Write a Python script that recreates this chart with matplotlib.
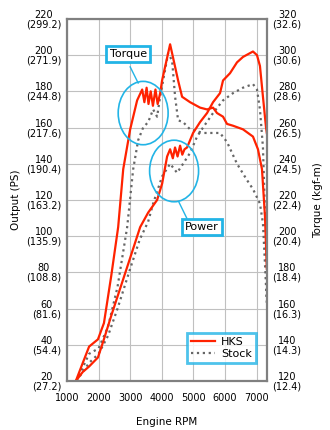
import matplotlib
matplotlib.use('Agg')
import matplotlib.pyplot as plt
import matplotlib.patches as patches

# Data (rpm, left-axis value)
hks_torque_rpm = [1280, 1500, 1700, 1980, 2170, 2400, 2620, 2780, 3000, 3220, 3380,
                  3450, 3520, 3580, 3650, 3720, 3800, 3870, 3950, 4010, 4264, 4517,
                  4643, 4896, 5212, 5433, 5623, 5749, 5939, 6065, 6255, 6571, 6887,
                  7045, 7172, 7267, 7325]
hks_torque = [20, 30, 39, 43, 52, 78, 105, 137, 159, 175, 181,
              174, 182, 173, 180, 172, 181, 173, 179, 186, 206, 186,
              177, 174, 171, 170, 171, 168, 166, 162, 161, 159, 155,
              148, 137, 111, 82]

hks_power_rpm = [1280, 1500, 1700, 1980, 2150, 2400, 2700, 3000, 3316, 3569, 3853,
                 4011, 4169, 4264, 4350, 4420, 4500, 4580, 4650, 4720, 4801, 4991,
                 5212, 5433, 5623, 5844, 5939, 6160, 6381, 6571, 6887, 7014, 7108,
                 7203, 7300, 7325]
hks_power = [20, 25, 28, 33, 42, 56, 72, 88, 105, 113, 120,
             129, 144, 148, 143, 149, 144, 150, 145, 148, 149, 157,
             163, 168, 174, 179, 186, 190, 196, 199, 202, 200, 194,
             177, 160, 157]

stock_torque_rpm = [1300, 1700, 2000, 2300, 2600, 2905, 3095, 3253, 3411, 3569, 3727,
                    3853, 3948, 4043, 4201, 4327, 4422, 4517, 4675, 4896, 5307, 5623,
                    5844, 6065, 6381, 6697, 6887, 7108, 7203, 7280, 7325]
stock_torque = [20, 35, 38, 50, 72, 105, 137, 153, 160, 163, 170,
                166, 177, 186, 201, 197, 177, 164, 163, 159, 157, 157,
                157, 152, 140, 131, 126, 118, 107, 80, 63]

stock_power_rpm = [1300, 1700, 2000, 2300, 2600, 3000, 3300, 3569, 3727, 4011, 4264,
                   4485, 4675, 4896, 5117, 5307, 5623, 5939, 6255, 6571, 6887, 7014,
                   7108, 7203, 7280, 7325]
stock_power = [20, 30, 35, 45, 60, 82, 98, 108, 118, 133, 140,
               135, 140, 146, 155, 160, 168, 175, 179, 182, 184, 181,
               170, 149, 105, 65]

left_ticks = [20, 40, 60, 80, 100, 120, 140, 160, 180, 200, 220]
left_sub = ['27.2', '54.4', '81.6', '108.8', '135.9', '163.2', '190.4', '217.6',
            '244.8', '271.9', '299.2']
right_ticks = [120, 140, 160, 180, 200, 220, 240, 260, 280, 300, 320]
right_sub = ['12.4', '14.3', '16.3', '18.4', '20.4', '22.4', '24.5', '26.5',
             '28.6', '30.6', '32.6']
x_ticks = [1000, 2000, 3000, 4000, 5000, 6000, 7000]

RED = '#ff2200'
GREY = '#666666'
CYAN = '#22b4e6'
SPINE = '#808080'

fig = plt.figure(figsize=(3.3, 4.3), dpi=100)
ax = fig.add_axes([0.203, 0.114, 0.606, 0.842])

# Stock curves first (dotted), HKS on top
st1, = ax.plot(stock_torque_rpm, stock_torque, color=GREY, linestyle=':', lw=1.6)
st2, = ax.plot(stock_power_rpm, stock_power, color=GREY, linestyle=':', lw=1.6)
hk1, = ax.plot(hks_torque_rpm, hks_torque, color=RED, lw=1.6)
hk2, = ax.plot(hks_power_rpm, hks_power, color=RED, lw=1.6)

ax.set_xlim(1000, 7330)
ax.set_ylim(20, 220)
ax.set_xticks(x_ticks)
ax.set_xticklabels([str(t) for t in x_ticks], fontsize=7)
ax.set_yticks(left_ticks)
ax.set_yticklabels([f'{t}\n({s})' for t, s in zip(left_ticks, left_sub)],
                   fontsize=7, multialignment='center', linespacing=0.95)
ax.tick_params(length=0, pad=4)
ax.tick_params(axis='x', pad=9)
ax.grid(True, color='#c0c0c0', lw=0.8)
ax.set_axisbelow(True)
for sp in ax.spines.values():
    sp.set_color(SPINE)
    sp.set_linewidth(1.6)

ax2 = ax.twinx()
ax2.set_ylim(120, 320)
ax2.set_yticks(right_ticks)
ax2.set_yticklabels([f'{t}\n({s})' for t, s in zip(right_ticks, right_sub)],
                    fontsize=7, multialignment='center', linespacing=0.95)
ax2.tick_params(length=0, pad=4)
for sp in ax2.spines.values():
    sp.set_visible(False)

ax.set_xlabel('Engine RPM', fontsize=7.5, labelpad=10)
ax.set_ylabel('Output (PS)', fontsize=7.5, labelpad=4)
ax2.set_ylabel('Torque (kgf-m)', fontsize=7.5, labelpad=8)

# Callout ellipses and boxes
ax.add_patch(patches.Ellipse((3411, 168), 1580, 35, fill=False, ec=CYAN, lw=1.2, zorder=5))
ax.add_patch(patches.Ellipse((4390, 136), 1550, 34, fill=False, ec=CYAN, lw=1.2, zorder=5))
ax.plot([3000, 3253], [193.5, 184.6], color=CYAN, lw=1.0, zorder=5)
ax.plot([4540, 4790], [118.9, 110], color=CYAN, lw=1.0, zorder=5)
box = dict(boxstyle='square,pad=0.3', fc='white', ec=CYAN, lw=2)
ax.text(2937, 200.7, 'Torque', fontsize=8, ha='center', va='center', bbox=box, zorder=6)
ax.text(5275, 105, 'Power', fontsize=8, ha='center', va='center', bbox=box, zorder=6)

leg = ax.legend([hk2, st2], ['HKS', 'Stock'], loc='lower left',
                bbox_to_anchor=(0.6, 0.05), fontsize=8,
                frameon=True, fancybox=False, handlelength=2.2, handletextpad=0.5,
                borderpad=0.35, labelspacing=0.2, borderaxespad=0)
leg.get_frame().set_edgecolor(CYAN)
leg.get_frame().set_linewidth(2)
leg.set_zorder(7)

fig.savefig('out.png', dpi=100, facecolor='white')
